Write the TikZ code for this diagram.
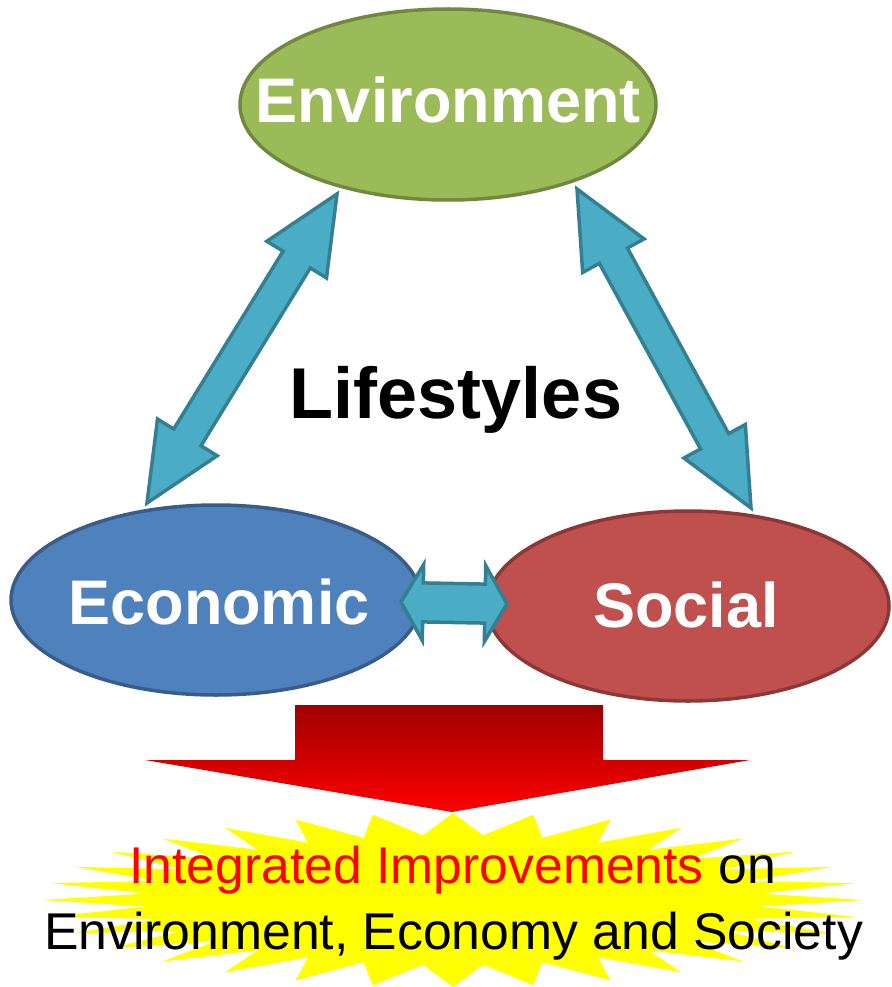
\documentclass[tikz,border=0pt]{standalone}
\usepackage{fontspec}
\setmainfont{Liberation Sans}
\usetikzlibrary{shapes.geometric,calc}
\definecolor{envfill}{HTML}{9BBB59}
\definecolor{envline}{HTML}{71893F}
\definecolor{ecofill}{HTML}{4F81BD}
\definecolor{ecoline}{HTML}{385D8A}
\definecolor{socfill}{HTML}{C0504D}
\definecolor{socline}{HTML}{8C3836}
\definecolor{arrfill}{HTML}{4BACC6}
\definecolor{arrline}{HTML}{357F93}
\definecolor{darkred}{HTML}{A00000}
\definecolor{brightred}{HTML}{FF0000}
\definecolor{starfill}{HTML}{FFFF00}
\tikzset{
  bubble/.style={ellipse, inner sep=0pt, outer sep=0pt, line width=3.5pt},
  bubbletext/.style={text=white, font=\bfseries\fontsize{63}{63}\selectfont},
  blockarrow/.style={fill=arrfill, draw=arrline, line width=3.5pt, line join=miter},
  bottomtext/.style={anchor=base, inner sep=0pt, font=\fontsize{51.7}{51.7}\selectfont},
}
\newcommand{\blockdbl}[5]{%
  \coordinate (HA) at ($(#1)!#3!(#2)$);
  \coordinate (HB) at ($(#2)!#3!(#1)$);
  \path[blockarrow] (#1) -- ($(HA)!#4!90:(#2)$) -- ($(HA)!#5!90:(#2)$)
    -- ($(HB)!#5!-90:(#1)$) -- ($(HB)!#4!-90:(#1)$) -- (#2)
    -- ($(HB)!#4!90:(#1)$) -- ($(HB)!#5!90:(#1)$)
    -- ($(HA)!#5!-90:(#2)$) -- ($(HA)!#4!-90:(#2)$) -- cycle;
}
\begin{document}
\begin{tikzpicture}[x=1pt,y=-1pt]
\useasboundingbox (0,0) rectangle (891,987);
% ellipses
\node[bubble, fill=envfill, draw=envline, minimum width=416pt, minimum height=191pt,
  label={[bubbletext, yshift=5pt]center:Environment}] (env) at (448,104.5) {};
\node[bubble, fill=ecofill, draw=ecoline, minimum width=410pt, minimum height=190pt,
  label={[bubbletext, xshift=3pt, yshift=-2pt]center:Economic}] (eco) at (216,600) {};
\node[bubble, fill=socfill, draw=socline, minimum width=402pt, minimum height=190pt,
  label={[bubbletext, xshift=-2pt, yshift=1pt]center:Social}] (soc) at (688,606) {};
% arrow end points
\coordinate (a1) at (337,194);
\coordinate (a2) at (147,503);
\coordinate (b1) at (577,189);
\coordinate (b2) at (751,508);
\coordinate (c1) at (401,602);
\coordinate (c2) at (507,604);
\blockdbl{a1}{a2}{77pt}{35pt}{16pt}
\blockdbl{b1}{b2}{76pt}{35pt}{16pt}
\blockdbl{c1}{c2}{22pt}{38pt}{19.5pt}
% center label
\node[anchor=base, inner sep=0pt, font=\bfseries\fontsize{72}{72}\selectfont] (life) at (456,418) {Lifestyles};
% star
\begin{scope}
\clip (0,0) rectangle (891,987);
\fill[starfill] (453,813) \foreach \k in {0,...,31}{
  -- ({453+308*sin(\k*11.25+5.625)},{900-65*cos(\k*11.25+5.625)})
  -- ({453+411*sin((\k+1)*11.25)},{900-87*cos((\k+1)*11.25)}) } -- cycle;
\end{scope}
% red arrow
\path[top color=darkred, bottom color=brightred]
  (295,705) -- (603,705) -- (603,760) -- (750,760) -- (452,812) -- (145,760) -- (295,760) -- cycle;
% bottom text
\node[bottomtext] (t1) at (452.5,883)
  {\textcolor{brightred}{Integrated Improvements} on};
\node[bottomtext] (t2) at (453.5,949)
  {Environment, Economy and Society};
\end{tikzpicture}
\end{document}
